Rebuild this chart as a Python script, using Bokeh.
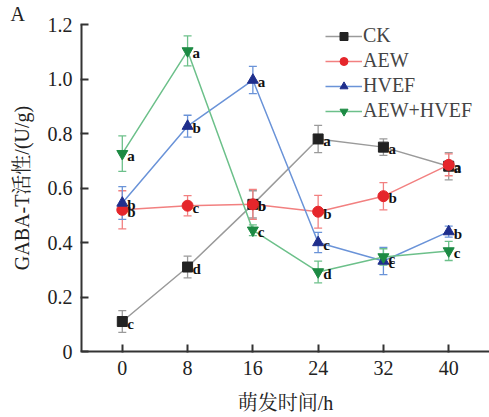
from bokeh.plotting import figure
from bokeh.models import ColumnDataSource, Whisker, TeeHead, FixedTicker, Legend, LegendItem
from bokeh.core.properties import value
from bokeh.embed import file_html
from bokeh.resources import INLINE

hours = [0, 8, 16, 24, 32, 40]
series_names = ["CK", "AEW", "HVEF", "AEW+HVEF"]
ck = [0.11, 0.31, 0.54, 0.78, 0.75, 0.68]
ck_err = [0.04, 0.04, 0.05, 0.05, 0.03, 0.05]
ck_sig = ["c", "d", "b", "a", "a", "a"]
aew = [0.52, 0.535, 0.54, 0.513, 0.57, 0.685]
aew_err = [0.07, 0.037, 0.055, 0.06, 0.05, 0.04]
aew_sig = ["b", "c", "b", "b", "b", "a"]
hvef = [0.545, 0.827, 0.996, 0.40, 0.332, 0.44]
hvef_err = [0.06, 0.04, 0.05, 0.037, 0.05, 0.02]
hvef_sig = ["b", "b", "a", "c", "c", "b"]
combo = [0.726, 1.103, 0.445, 0.292, 0.347, 0.369]
combo_err = [0.065, 0.055, 0.02, 0.04, 0.03, 0.035]
combo_sig = ["a", "a", "c", "d", "c", "c"]
y_ticks = [0, 0.2, 0.4, 0.6, 0.8, 1.0, 1.2]
y_tick_labels = ["0", "0.2", "0.4", "0.6", "0.8", "1.0", "1.2"]
panel_tag = "A"

SERIF = "'Liberation Serif', 'Noto Serif CJK SC', 'Noto Sans CJK SC', serif"

p = figure(width=489, height=417, x_range=(-5, 45), y_range=(0, 1.2),
           output_backend="svg", toolbar_location=None,
           min_border_left=81, min_border_right=0, min_border_top=23, min_border_bottom=66)
p.outline_line_color = None
p.xgrid.visible = False
p.ygrid.visible = False

p.title.text = panel_tag
p.title.align = "left"
p.title.offset = -71
p.title.standoff = 0
p.title.text_font = SERIF
p.title.text_font_size = "20px"
p.title.text_line_height = 1.0
p.title.text_font_style = "normal"
p.title.text_color = "#222222"

styles = [
    (ck, ck_err, ck_sig, "#9a9a9a", "#222222", "square", 10),
    (aew, aew_err, aew_sig, "#f28080", "#e5262b", "circle", 11),
    (hvef, hvef_err, hvef_sig, "#6a93d8", "#1f2e8c", "triangle", 11),
    (combo, combo_err, combo_sig, "#6cc08a", "#1c8a43", "inverted_triangle", 11),
]

items = []
for name, (vals, errs, sig, lc, mc, marker, size) in zip(series_names, styles):
    src = ColumnDataSource(dict(x=hours, y=vals,
                                lo=[v - e for v, e in zip(vals, errs)],
                                hi=[v + e for v, e in zip(vals, errs)],
                                sig=sig))
    w = Whisker(source=src, base="x", upper="hi", lower="lo", line_color=lc, line_width=1.3,
                upper_head=TeeHead(size=8, line_color=lc, line_width=1.3),
                lower_head=TeeHead(size=8, line_color=lc, line_width=1.3))
    p.add_layout(w)
    r1 = p.line("x", "y", source=src, line_color=lc, line_width=1.5)
    r2 = p.scatter("x", "y", source=src, marker=marker, size=size, fill_color=mc, line_color=mc)
    p.text("x", "y", text="sig", source=src, x_offset=5, y_offset=2,
           text_font=value("Liberation Serif"), text_font_style="bold",
           text_font_size="15px", text_baseline="middle", text_color="#111111")
    items.append(LegendItem(label=name, renderers=[r1, r2]))

legend = Legend(items=items, location=(244, 229), glyph_width=37, glyph_height=20,
                label_height=20, spacing=2, padding=0, margin=0, label_standoff=1,
                label_text_font=SERIF, label_text_font_size="20px",
                background_fill_alpha=0, border_line_color=None)
p.add_layout(legend)

for ax in (p.xaxis[0], p.yaxis[0]):
    ax.axis_line_color = "#333333"
    ax.axis_line_width = 2
    ax.major_tick_line_color = "#333333"
    ax.major_tick_line_width = 2
    ax.major_tick_in = 7
    ax.major_tick_out = 1
    ax.minor_tick_line_color = None
    ax.major_label_text_font = SERIF
    ax.major_label_text_font_size = "20px"
    ax.major_label_text_color = "#222222"
    ax.axis_label_text_font = SERIF
    ax.axis_label_text_font_size = "20px"
    ax.axis_label_text_font_style = "normal"
    ax.axis_label_text_color = "#222222"

p.xaxis.ticker = FixedTicker(ticks=hours)
p.yaxis.ticker = FixedTicker(ticks=y_ticks)
p.yaxis.major_label_overrides = {t: l for t, l in zip(y_ticks, y_tick_labels)}
p.xaxis.major_label_standoff = 8
p.yaxis.major_label_standoff = 8
p.xaxis.axis_label = "萌发时间/h"
p.yaxis.axis_label = "GABA-T活性/(U/g)"
p.xaxis.axis_label_standoff = 14
p.yaxis.axis_label_standoff = 12

open("out.html", "w").write(file_html(p, INLINE))
